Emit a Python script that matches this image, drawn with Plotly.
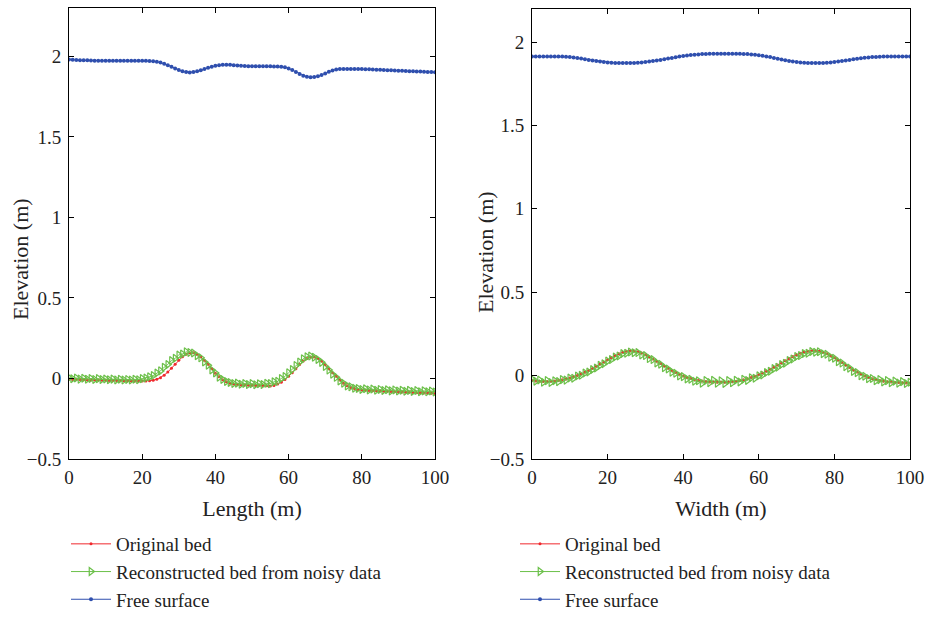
import plotly.graph_objects as go

# Stations along each section (m)
length_x = list(range(0, 101))
width_x = list(range(0, 101))

# Longitudinal section (Length)
len_original_bed = [
    -0.005, -0.006, -0.007, -0.007, -0.008, -0.009, -0.009, -0.010, -0.010, -0.011,
    -0.011, -0.012, -0.012, -0.013, -0.013, -0.014, -0.014, -0.015, -0.015, -0.015,
    -0.015, -0.015, -0.014, -0.011, -0.005, 0.005, 0.020, 0.040, 0.063, 0.088,
    0.113, 0.135, 0.151, 0.160, 0.160, 0.151, 0.135, 0.113, 0.088, 0.060,
    0.033, 0.010, -0.008, -0.021, -0.030, -0.035, -0.038, -0.040, -0.041, -0.042,
    -0.042, -0.043, -0.043, -0.044, -0.045, -0.047, -0.043, -0.035, -0.023, -0.007,
    0.013, 0.036, 0.061, 0.086, 0.108, 0.124, 0.133, 0.133, 0.124, 0.108,
    0.086, 0.061, 0.036, 0.013, -0.010, -0.030, -0.045, -0.056, -0.063, -0.068,
    -0.071, -0.073, -0.075, -0.076, -0.077, -0.078, -0.079, -0.080, -0.081, -0.082,
    -0.083, -0.084, -0.085, -0.086, -0.087, -0.088, -0.089, -0.090, -0.091, -0.092,
    -0.093,
]
len_reconstructed_bed = [
    0.004, -0.002, 0.003, -0.004, 0.001, -0.005, 0.000, -0.006, -0.001, -0.007,
    -0.003, -0.008, -0.004, -0.009, -0.005, -0.010, -0.006, -0.010, -0.005, -0.008,
    -0.001, 0.003, 0.011, 0.018, 0.034, 0.047, 0.070, 0.087, 0.111, 0.125,
    0.146, 0.152, 0.165, 0.161, 0.158, 0.141, 0.128, 0.102, 0.082, 0.053,
    0.034, 0.008, -0.006, -0.019, -0.025, -0.031, -0.029, -0.036, -0.031, -0.038,
    -0.032, -0.039, -0.033, -0.038, -0.030, -0.032, -0.021, -0.018, 0.000, 0.012,
    0.036, 0.056, 0.081, 0.102, 0.122, 0.135, 0.139, 0.132, 0.118, 0.100,
    0.075, 0.052, 0.026, 0.007, -0.016, -0.030, -0.046, -0.052, -0.061, -0.062,
    -0.068, -0.064, -0.071, -0.066, -0.073, -0.068, -0.075, -0.070, -0.077, -0.071,
    -0.078, -0.073, -0.079, -0.074, -0.081, -0.075, -0.082, -0.077, -0.083, -0.078,
    -0.084,
]
len_free_surface = [
    1.980, 1.978, 1.977, 1.976, 1.975, 1.975, 1.974, 1.973, 1.973, 1.973,
    1.973, 1.973, 1.972, 1.972, 1.972, 1.972, 1.972, 1.972, 1.972, 1.972,
    1.972, 1.972, 1.971, 1.969, 1.966, 1.961, 1.954, 1.945, 1.935, 1.925,
    1.915, 1.907, 1.902, 1.900, 1.902, 1.907, 1.914, 1.921, 1.929, 1.936,
    1.941, 1.945, 1.947, 1.948, 1.947, 1.945, 1.943, 1.941, 1.940, 1.939,
    1.939, 1.939, 1.938, 1.938, 1.938, 1.938, 1.937, 1.937, 1.936, 1.932,
    1.925, 1.915, 1.903, 1.891, 1.880, 1.873, 1.870, 1.871, 1.876, 1.884,
    1.894, 1.904, 1.912, 1.918, 1.921, 1.922, 1.922, 1.922, 1.922, 1.921,
    1.921, 1.920, 1.919, 1.918, 1.917, 1.916, 1.915, 1.914, 1.913, 1.912,
    1.911, 1.910, 1.909, 1.908, 1.907, 1.906, 1.905, 1.904, 1.903, 1.902,
    1.901,
]

# Cross section (Width)
wid_original_bed = [
    -0.030, -0.032, -0.034, -0.035, -0.035, -0.034, -0.032, -0.029, -0.025, -0.020,
    -0.014, -0.007, 0.001, 0.010, 0.020, 0.031, 0.043, 0.056, 0.069, 0.082,
    0.095, 0.108, 0.120, 0.131, 0.140, 0.146, 0.149, 0.148, 0.143, 0.135,
    0.125, 0.113, 0.100, 0.086, 0.072, 0.058, 0.044, 0.031, 0.019, 0.008,
    -0.002, -0.011, -0.018, -0.024, -0.029, -0.033, -0.036, -0.038, -0.039, -0.040,
    -0.040, -0.040, -0.039, -0.037, -0.034, -0.030, -0.025, -0.019, -0.012, -0.004,
    0.005, 0.015, 0.026, 0.038, 0.050, 0.063, 0.076, 0.089, 0.102, 0.114,
    0.125, 0.134, 0.141, 0.146, 0.149, 0.149, 0.146, 0.140, 0.131, 0.120,
    0.107, 0.093, 0.078, 0.063, 0.048, 0.034, 0.021, 0.009, -0.002, -0.011,
    -0.019, -0.025, -0.030, -0.034, -0.037, -0.039, -0.041, -0.042, -0.043, -0.044,
    -0.045,
]
wid_reconstructed_bed = [
    -0.020, -0.034, -0.026, -0.040, -0.030, -0.041, -0.031, -0.036, -0.024, -0.027,
    -0.014, -0.016, -0.002, 0.002, 0.016, 0.022, 0.037, 0.046, 0.062, 0.071,
    0.088, 0.096, 0.112, 0.118, 0.132, 0.134, 0.142, 0.137, 0.138, 0.124,
    0.120, 0.102, 0.096, 0.076, 0.068, 0.048, 0.040, 0.021, 0.014, -0.002,
    -0.006, -0.020, -0.022, -0.034, -0.031, -0.046, -0.030, -0.042, -0.028, -0.045,
    -0.031, -0.047, -0.029, -0.043, -0.028, -0.038, -0.022, -0.029, -0.013, -0.016,
    -0.001, 0.004, 0.019, 0.026, 0.042, 0.050, 0.066, 0.074, 0.091, 0.099,
    0.115, 0.120, 0.133, 0.134, 0.144, 0.140, 0.143, 0.131, 0.128, 0.110,
    0.104, 0.083, 0.075, 0.054, 0.045, 0.025, 0.018, 0.000, -0.004, -0.018,
    -0.017, -0.031, -0.024, -0.038, -0.030, -0.043, -0.033, -0.045, -0.036, -0.047,
    -0.040,
]
wid_free_surface = [
    1.914, 1.914, 1.914, 1.914, 1.914, 1.914, 1.914, 1.914, 1.913, 1.912,
    1.910, 1.907, 1.904, 1.901, 1.897, 1.893, 1.889, 1.886, 1.883, 1.880,
    1.878, 1.876, 1.875, 1.874, 1.874, 1.874, 1.874, 1.875, 1.876, 1.878,
    1.880, 1.883, 1.886, 1.889, 1.893, 1.897, 1.901, 1.905, 1.909, 1.913,
    1.916, 1.919, 1.922, 1.924, 1.926, 1.928, 1.929, 1.930, 1.930, 1.930,
    1.930, 1.930, 1.930, 1.930, 1.930, 1.930, 1.929, 1.928, 1.926, 1.924,
    1.921, 1.918, 1.914, 1.910, 1.905, 1.900, 1.896, 1.891, 1.887, 1.884,
    1.881, 1.878, 1.876, 1.875, 1.874, 1.874, 1.874, 1.875, 1.876, 1.878,
    1.880, 1.883, 1.886, 1.890, 1.893, 1.897, 1.900, 1.903, 1.906, 1.908,
    1.910, 1.911, 1.912, 1.913, 1.913, 1.913, 1.914, 1.914, 1.914, 1.914,
    1.914,
]

series_names = ["Original bed", "Reconstructed bed from noisy data", "Free surface"]
y_ticks = [-0.5, 0, 0.5, 1, 1.5, 2]
x_ticks = [0, 20, 40, 60, 80, 100]

RED = "#f0282d"
GREEN = "#6cc04a"
BLUE = "#2f4fae"
FONT = "Liberation Serif"
TXT = "#222"

fig = go.Figure()


def add_panel(x, bed, recon, surf, xaxis, yaxis, legend):
    fig.add_trace(go.Scatter(
        x=x, y=bed, name=series_names[0], mode="lines+markers",
        line=dict(color=RED, width=1), marker=dict(color=RED, size=3),
        xaxis=xaxis, yaxis=yaxis, legend=legend))
    fig.add_trace(go.Scatter(
        x=x, y=recon, name=series_names[1], mode="lines+markers",
        line=dict(color=GREEN, width=1),
        marker=dict(symbol="triangle-right-open", color=GREEN, size=7,
                    line=dict(width=1.2, color=GREEN)),
        xaxis=xaxis, yaxis=yaxis, legend=legend))
    fig.add_trace(go.Scatter(
        x=x, y=surf, name=series_names[2], mode="lines+markers",
        line=dict(color=BLUE, width=1), marker=dict(color=BLUE, size=4),
        xaxis=xaxis, yaxis=yaxis, legend=legend))


add_panel(length_x, len_original_bed, len_reconstructed_bed, len_free_surface,
          "x", "y", "legend")
add_panel(width_x, wid_original_bed, wid_reconstructed_bed, wid_free_surface,
          "x2", "y2", "legend2")

axis_style = dict(
    showline=True, linecolor="black", linewidth=1, mirror="ticks",
    ticks="inside", ticklen=5, tickcolor="black", showgrid=False,
    zeroline=False, automargin=False,
    tickfont=dict(family=FONT, size=19, color=TXT),
)
xaxis_style = dict(axis_style, ticklabelstandoff=1)
yaxis_style = dict(axis_style, ticklabelstandoff=3)

W, H = 928, 619
legend_style = dict(xanchor="left", yanchor="bottom", itemwidth=40,
                    font=dict(family=FONT, size=19, color=TXT),
                    bgcolor="rgba(0,0,0,0)", tracegroupgap=0)

fig.update_layout(
    width=W, height=H,
    margin=dict(l=0, r=0, t=0, b=0),
    paper_bgcolor="white", plot_bgcolor="white",
    font=dict(family=FONT, color=TXT),
    xaxis=dict(domain=[69 / W, 435 / W], range=[0, 100], tickvals=x_ticks,
               anchor="y",
               title=dict(text="Length (m)", font=dict(family=FONT, size=22),
                          standoff=13),
               **xaxis_style),
    yaxis=dict(domain=[1 - 459 / H, 1 - 8 / H], range=[-0.5, 2.3],
               tickvals=y_ticks, anchor="x", **yaxis_style),
    xaxis2=dict(domain=[532 / W, 910 / W], range=[0, 100], tickvals=x_ticks,
                anchor="y2",
                title=dict(text="Width (m)", font=dict(family=FONT, size=22),
                           standoff=13),
                **xaxis_style),
    yaxis2=dict(domain=[1 - 459 / H, 1 - 8.7 / H], range=[-0.5, 2.2],
                tickvals=y_ticks, anchor="x2", **yaxis_style),
    legend=dict(x=66 / W, y=0, **legend_style),
    legend2=dict(x=515 / W, y=0, **legend_style),
    showlegend=True,
)

fig.add_annotation(text="Elevation (m)", x=20 / W, y=1 - 259 / H,
                   xref="paper", yref="paper", xanchor="center",
                   yanchor="middle", showarrow=False, textangle=-90,
                   font=dict(family=FONT, size=22, color=TXT))
fig.add_annotation(text="Elevation (m)", x=485 / W, y=1 - 252 / H,
                   xref="paper", yref="paper", xanchor="center",
                   yanchor="middle", showarrow=False, textangle=-90,
                   font=dict(family=FONT, size=22, color=TXT))

fig.write_html("out.html")
